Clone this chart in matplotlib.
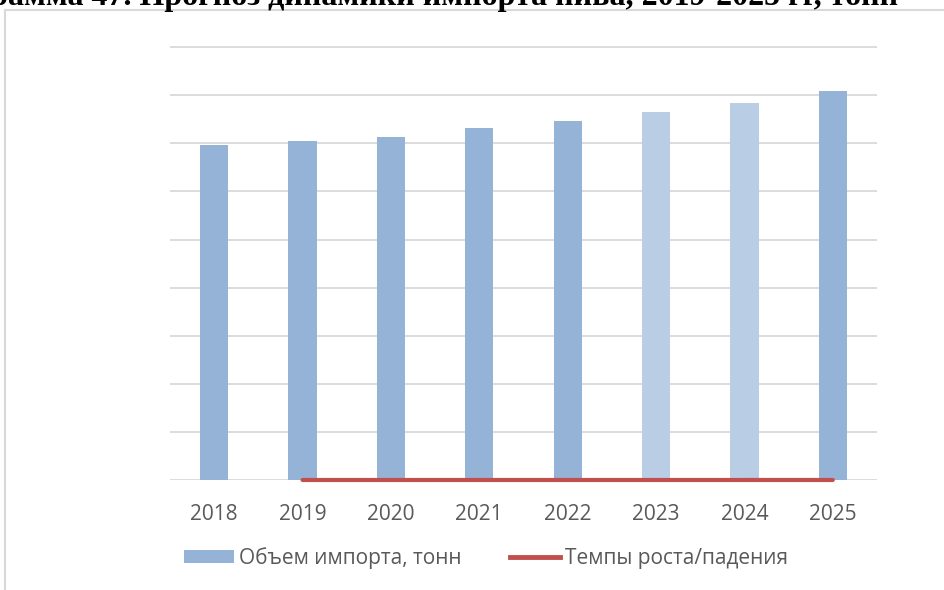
import matplotlib
matplotlib.use('Agg')
import matplotlib.pyplot as plt
from matplotlib.patches import Patch
from matplotlib.lines import Line2D

years = ['2018', '2019', '2020', '2021', '2022', '2023', '2024', '2025']
# import volume, tonnes (y axis has no labels)
volume = [69700, 70400, 71400, 73100, 74700, 76600, 78400, 80900]
forecast = [False, False, False, False, False, True, True, False]
# growth rate, % (flat at the bottom on the tonnes scale)
rate_years = ['2019', '2020', '2021', '2022', '2023', '2024', '2025']
rate = [1.0, 1.4, 2.4, 2.2, 2.5, 2.3, 3.2]

title = 'Диаграмма 47. Прогноз динамики импорта пива, 2019-2025 гг, тонн'

bar_col = '#95B3D7'
bar_col_light = '#B9CDE5'
red = '#C0504D'
grid_col = '#D9D9D9'
txt_col = '#595959'

plt.rcParams['font.family'] = ['Open Sans', 'DejaVu Sans']

fig = plt.figure(figsize=(9.45, 5.9), dpi=100)

# outer chart frame (left and top edges visible)
fig.add_artist(Line2D([5/945, 5/945], [0, 1 - 10/590], transform=fig.transFigure,
                      color=grid_col, lw=1.5))
fig.add_artist(Line2D([5/945, 1], [1 - 10/590, 1 - 10/590], transform=fig.transFigure,
                      color=grid_col, lw=1.5))

# title, cropped at the top edge
fig.text(898/945, 1 - 5/590, title, ha='right', va='baseline',
         family='Liberation Serif', weight='bold', fontsize=23, color='black')

ax = fig.add_axes([170/945, 110/590, 707/945, 440/590])
x = range(len(years))
colors = [bar_col_light if f else bar_col for f in forecast]
ax.bar(x, volume, width=0.32, color=colors, zorder=2)
rx = [years.index(y) for y in rate_years]
ax.plot(rx, rate, color=red, lw=3, solid_capstyle='round', zorder=3, clip_on=False)

ax.set_xlim(-0.5, len(years) - 0.5)
ax.set_ylim(0, 91500)
ax.set_yticks(range(0, 90001, 10000))
ax.yaxis.grid(True, color=grid_col, lw=1.3, zorder=0)
ax.set_yticklabels([])
ax.tick_params(axis='y', length=0)
ax.set_xticks(list(x))
ax.set_xticklabels(years, fontsize=15, color=txt_col)
ax.tick_params(axis='x', length=0, pad=17)
for s in ax.spines.values():
    s.set_visible(False)

handles = [Patch(facecolor=bar_col, edgecolor='none'),
           Line2D([], [], color=red, lw=3.5)]
fig.legend(handles, ['Объем импорта, тонн', 'Темпы роста/падения'],
           loc='center', bbox_to_anchor=(486/945, 32/590), ncol=2, frameon=False,
           fontsize=15, labelcolor=txt_col, handlelength=2.4, handleheight=0.6,
           handletextpad=0.25, columnspacing=2.35)

fig.savefig('out.png', dpi=100)
